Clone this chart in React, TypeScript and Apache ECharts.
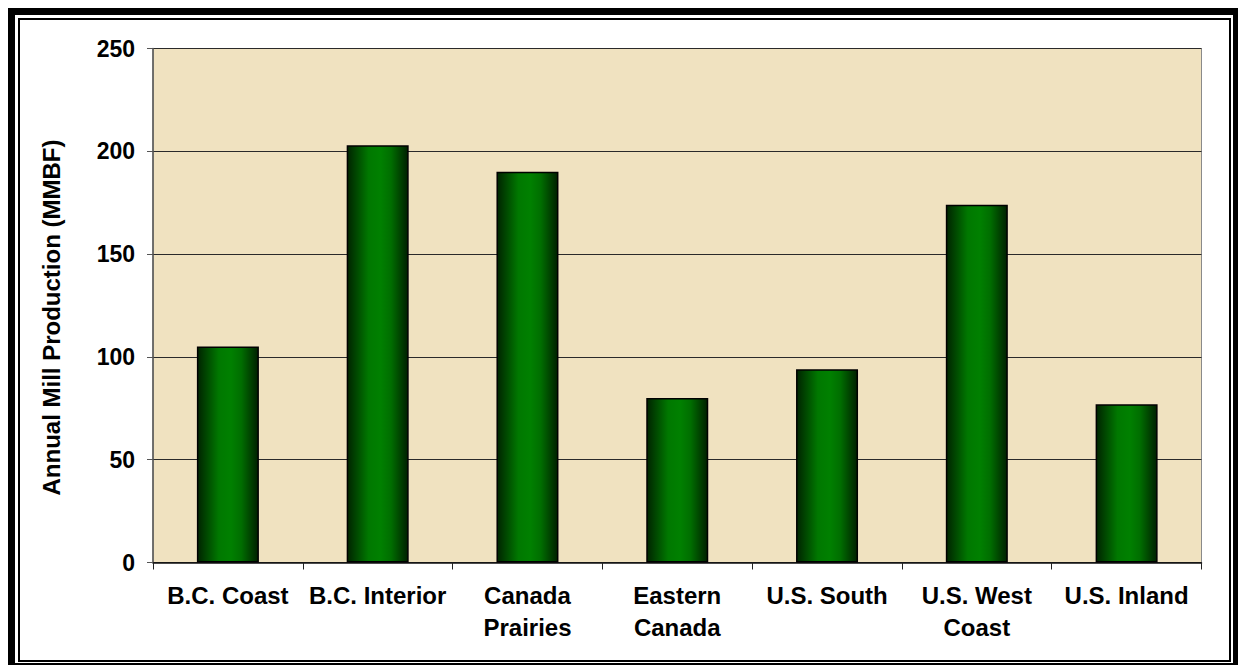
import React, { useEffect, useRef } from "react";
import * as echarts from "echarts";

const categories = [
  "B.C. Coast",
  "B.C. Interior",
  "Canada\nPrairies",
  "Eastern\nCanada",
  "U.S. South",
  "U.S. West\nCoast",
  "U.S. Inland",
];
const production = [105, 203, 190, 80, 94, 174, 77];
const yTitle = "Annual Mill Production (MMBF)";
const yMin = 0;
const yMax = 250;
const yStep = 50;

const FONT = "'Liberation Sans', Arial, sans-serif";

export default function App() {
  const ref = useRef<HTMLDivElement>(null);
  useEffect(() => {
    if (!ref.current) return;
    const chart = echarts.init(ref.current, undefined, { renderer: "svg" });
    chart.setOption({
      animation: false,
      backgroundColor: "#ffffff",
      grid: {
        left: 153,
        top: 48.5,
        right: 36.5,
        bottom: 102.5,
        show: true,
        backgroundColor: "#F0E2C0",
        borderColor: "#8a8a8a",
        borderWidth: 1,
      },
      xAxis: {
        type: "category",
        data: categories,
        axisLine: { lineStyle: { color: "#111", width: 1.5 } },
        axisTick: { show: true, length: 7, lineStyle: { color: "#222", width: 1 } },
        axisLabel: {
          interval: 0,
          margin: 17,
          color: "#000",
          fontFamily: FONT,
          fontWeight: "bold",
          fontSize: 24,
          lineHeight: 32,
        },
        splitLine: { show: false },
      },
      yAxis: {
        type: "value",
        min: yMin,
        max: yMax,
        interval: yStep,
        axisLine: { show: true, lineStyle: { color: "#555", width: 1.5 } },
        axisTick: { show: true, length: 6, lineStyle: { color: "#555", width: 1 } },
        axisLabel: {
          margin: 18,
          color: "#000",
          fontFamily: FONT,
          fontWeight: "bold",
          fontSize: 23,
        },
        splitLine: { show: true, lineStyle: { color: "#2a2a2a", width: 1 } },
      },
      series: [
        {
          type: "bar",
          data: production,
          barWidth: 62,
          itemStyle: {
            borderColor: "#000",
            borderWidth: 1.5,
            color: {
              type: "linear",
              x: 0,
              y: 0,
              x2: 1,
              y2: 0,
              colorStops: [
                { offset: 0, color: "#002400" },
                { offset: 0.35, color: "#007800" },
                { offset: 0.55, color: "#008000" },
                { offset: 0.72, color: "#006e00" },
                { offset: 1, color: "#002000" },
              ],
            },
          },
        },
      ],
      graphic: [
        {
          type: "rect",
          shape: { x: 11.5, y: 11.5, width: 1225, height: 655 },
          style: { fill: "none", stroke: "#000", lineWidth: 7 },
          silent: true,
        },
        {
          type: "rect",
          shape: { x: 19, y: 19, width: 1211, height: 642 },
          style: { fill: "none", stroke: "#000", lineWidth: 2 },
          silent: true,
        },
        {
          type: "text",
          x: 51,
          y: 317.5,
          rotation: Math.PI / 2,
          style: {
            text: yTitle,
            fill: "#000",
            font: `bold 24px ${FONT}`,
            textAlign: "center",
            textVerticalAlign: "middle",
          },
          silent: true,
        },
      ],
    });
    return () => chart.dispose();
  }, []);
  return (
    <div
      ref={ref}
      style={{ position: "absolute", left: 0, top: 0, width: 1238, height: 665 }}
    />
  );
}
